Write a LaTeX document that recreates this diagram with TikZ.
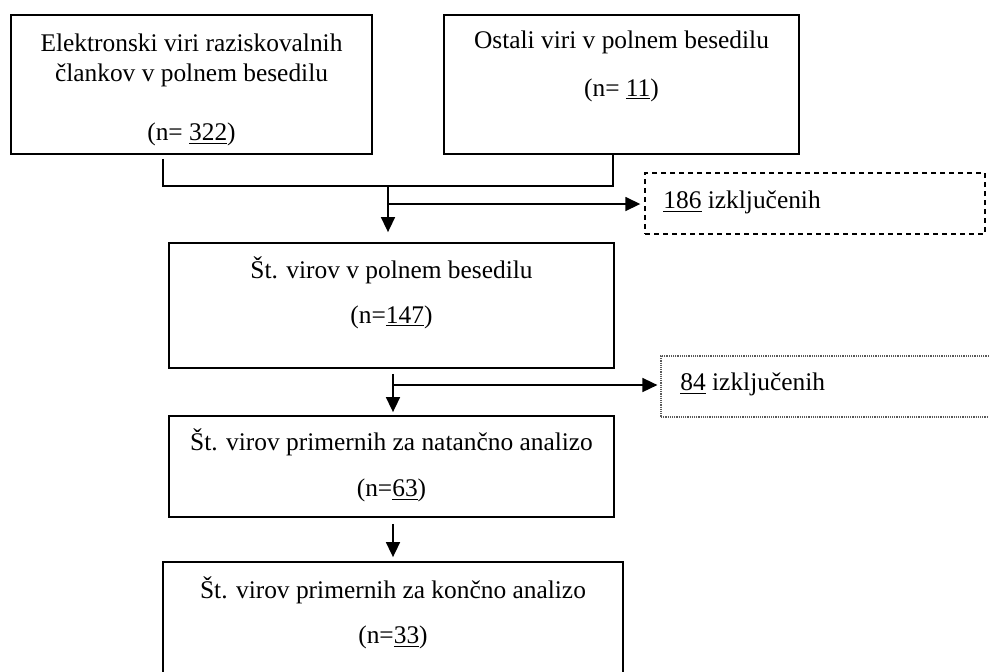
\documentclass[tikz,border=0pt]{standalone}
\usepackage{fontspec}
\setmainfont{Liberation Serif}
\usetikzlibrary{arrows.meta,calc}

\tikzset{
  okvir/.style = {draw, line width=0.9pt},
  izkl/.style = {draw, line width=0.7pt, dash pattern=on 2.5pt off 2pt},
  izklpik/.style = {draw=black!65, line width=0.6pt, dash pattern=on 0.6pt off 0.5pt},
  crta/.style = {line width=0.8pt},
  puscica/.style = {line width=0.8pt, -{Triangle[width=7pt,length=7.5pt]}}
}

\begin{document}
\begin{tikzpicture}[x=0.5pt, y=-0.5pt,
  every node/.style={inner sep=0pt, font=\fontsize{12.7}{15}\selectfont,
    text height=9pt, text depth=3pt}]
  \clip (0,0) rectangle (989,671);
  % okvirji
  \node[okvir, minimum width=180.5pt, minimum height=69.5pt] (el) at (191.5,84.5) {};
  \node[okvir, minimum width=177.5pt, minimum height=69.5pt] (ost) at (621.5,84.5) {};
  \node[okvir, minimum width=222.5pt, minimum height=62.5pt] (st) at (391.5,305.5) {};
  \node[okvir, minimum width=222.5pt, minimum height=50.5pt] (nat) at (391.5,466.5) {};
  \node[okvir, minimum width=230pt, minimum height=69pt] (kon) at (393,631) {};
  \node[izkl, minimum width=170pt, minimum height=30.5pt] (izk1) at (815,203.5) {};
  \node[izklpik, minimum width=174.5pt, minimum height=30.5pt] (izk2) at (835.5,386.5) {};
  % besedila
  \node (el1) at (191.5,45) {Elektronski viri raziskovalnih};
  \node (el2) at (191.5,75) {člankov v polnem besedilu};
  \node (el3) at (191.5,134) {(n= \underline{322})};
  \node (ost1) at (621.5,42) {Ostali viri v polnem besedilu};
  \node (ost2) at (621.5,90) {(n= \underline{11})};
  \node (st1) at (391.5,272) {Št. virov v polnem besedilu};
  \node (st2) at (391.5,317) {(n=\underline{147})};
  \node (nat1) at (391.5,444) {Št. virov primernih za natančno analizo};
  \node (nat2) at (391.5,490) {(n=\underline{63})};
  \node (kon1) at (393,592) {Št. virov primernih za končno analizo};
  \node (kon2) at (393,637) {(n=\underline{33})};
  \node[anchor=west] (izk1t) at (663,202) {\underline{186} izključenih};
  \node[anchor=west] (izk2t) at (680,384) {\underline{84} izključenih};
  % povezave
  \coordinate (spoj) at (388,186);
  \coordinate (odcep1) at (388,204);
  \coordinate (odcep2) at (393,385);
  \draw[crta, shorten <=2pt] ([xshift=-14.25pt]el.south) |- (spoj) -| ([xshift=-4.25pt]ost.south);
  \draw[puscica, shorten >=5pt] (spoj) -- (spoj |- st.north);
  \draw[puscica, shorten >=2pt] (odcep1) -- (odcep1 -| izk1.west);
  \draw[puscica, shorten <=2.5pt, shorten >=1.5pt] (st.south -| odcep2) -- (nat.north -| odcep2);
  \draw[puscica, shorten >=1.5pt] (odcep2) -- (odcep2 -| izk2.west);
  \draw[puscica, shorten <=3pt, shorten >=2pt] (nat.south -| odcep2) -- (kon.north -| odcep2);
\end{tikzpicture}
\end{document}
